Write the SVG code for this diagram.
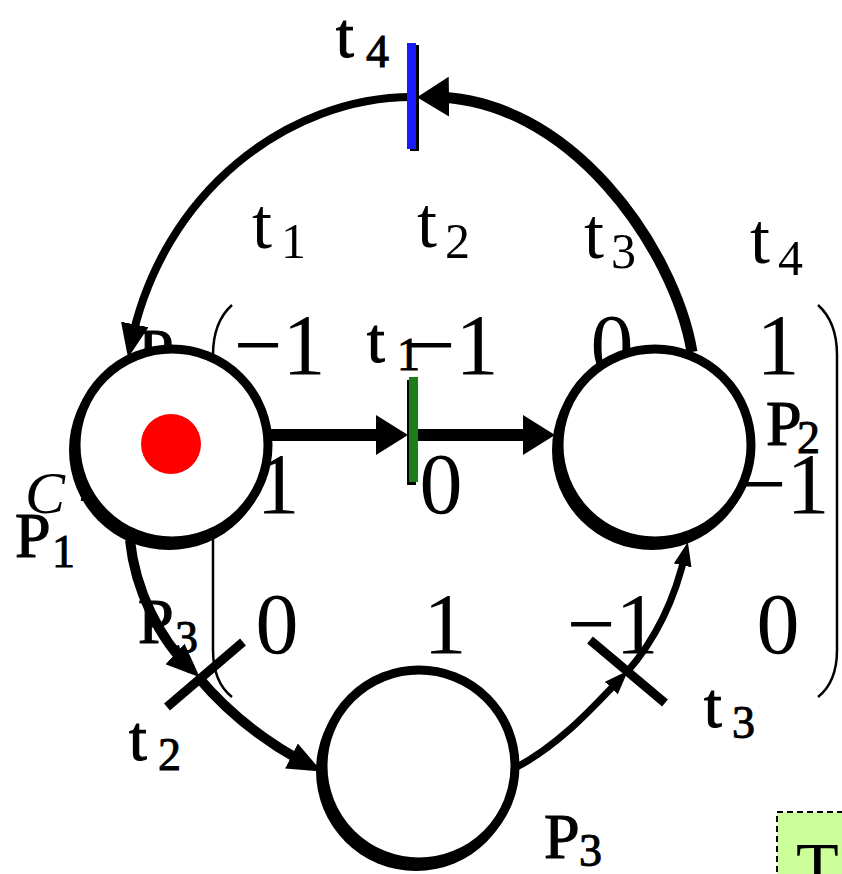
<svg xmlns="http://www.w3.org/2000/svg" width="842" height="874" viewBox="0 0 842 874" font-family="'Liberation Serif', Tinos, 'Times New Roman', 'Nimbus Roman', Times, serif">
<defs>
<marker id="ab" markerUnits="userSpaceOnUse" viewBox="0 0 32 40" markerWidth="32" markerHeight="40" refX="20" refY="20" orient="auto"><path d="M0,0 L32,20 L0,40 z" fill="#000"/></marker>
<marker id="am" markerUnits="userSpaceOnUse" viewBox="0 0 34 28" markerWidth="34" markerHeight="28" refX="22" refY="14" orient="auto"><path d="M0,0 L34,14 L0,28 z" fill="#000"/></marker>
<marker id="as" markerUnits="userSpaceOnUse" viewBox="0 0 24 18" markerWidth="24" markerHeight="18" refX="14" refY="9" orient="auto"><path d="M0,0 L24,9 L0,18 z" fill="#000"/></marker>
</defs>
<style>
text{font-family:'Liberation Serif', Tinos, 'Times New Roman', 'Nimbus Roman', Times, serif;fill:#000}
.m{font-size:86px}
.h{font-size:72px}
.hs{font-size:50px}
.lb{font-size:64px;stroke:#000;stroke-width:1.2}
.ls{font-size:46px;stroke:#000;stroke-width:1}
.arc{fill:none;stroke:#000}
.place{fill:#fff;stroke:#000;stroke-width:9}
.shadow{fill:#000}
.bar{stroke:#000;stroke-width:9;stroke-linecap:butt}
.br{fill:none;stroke:#000;stroke-width:2.5}
</style>
<rect width="842" height="874" fill="#fff"/>

<g id="matrix">
<text x="25" y="513" font-size="60" font-style="italic">C</text>
<text x="78" y="513" font-size="58">=</text>
<text class="lb" x="138" y="373">P<tspan class="ls" x="175" y="383">1</tspan></text>
<text class="lb" x="138" y="513">P<tspan class="ls" x="175" y="523">2</tspan></text>
<text class="lb" x="138" y="643">P<tspan class="ls" x="175" y="653">3</tspan></text>
<text class="h" x="252" y="248">t<tspan class="hs" x="281" y="258">1</tspan></text>
<text class="h" x="417" y="247">t<tspan class="hs" x="445" y="258">2</tspan></text>
<text class="h" x="584" y="258">t<tspan class="hs" x="611" y="268">3</tspan></text>
<text class="h" x="750" y="263">t<tspan class="hs" x="778" y="275">4</tspan></text>
<path class="br" d="M232,305 Q213,322 213,355 L213,650 Q213,682 232,697"/>
<path class="br" d="M818,305 Q837,322 837,355 L837,650 Q837,682 818,697"/>
<text class="m" x="234" y="374">−1</text>
<text class="m" x="407" y="374">−1</text>
<text class="m" x="612" y="374" text-anchor="middle">0</text>
<text class="m" x="778" y="374" text-anchor="middle">1</text>
<text class="m" x="278" y="513" text-anchor="middle">1</text>
<text class="m" x="441" y="513" text-anchor="middle">0</text>
<text class="m" x="612" y="513" text-anchor="middle">1</text>
<text class="m" x="738" y="513">−1</text>
<text class="m" x="277" y="653" text-anchor="middle">0</text>
<text class="m" x="445" y="653" text-anchor="middle">1</text>
<text class="m" x="567" y="653">−1</text>
<text class="m" x="778" y="653" text-anchor="middle">0</text>
</g>

<g id="connectors">
<path class="arc" stroke-width="12" d="M268,435 L396,435" marker-end="url(#ab)"/>
<path class="arc" stroke-width="12" d="M413,435 L543,435" marker-end="url(#ab)"/>
<path class="arc" stroke-width="11" d="M692,352 C675,250 570,95 429,97" marker-end="url(#ab)"/>
<path class="arc" stroke-width="8" d="M412,97 C290,97 162,190 130.4,346" marker-end="url(#am)"/>
<path class="arc" stroke-width="10" d="M130,540 C135,590 160,640 191,669" marker-end="url(#am)"/>
<path class="arc" stroke-width="10" d="M198,677 C230,715 270,745 311,766" marker-end="url(#am)"/>
<path class="arc" stroke-width="7" d="M515,768 C560,745 595,705 621,678" marker-end="url(#as)"/>
<path class="arc" stroke-width="7" d="M627,672 C655,640 675,600 685.7,551.7" marker-end="url(#as)"/>
</g>

<g id="P1">
<circle class="shadow" cx="169" cy="450" r="100"/>
<circle class="place" cx="172" cy="445" r="96"/>
<circle cx="171" cy="444" r="30" fill="#ff0000"/>
</g>
<g id="P2">
<circle class="shadow" cx="652" cy="450" r="100"/>
<circle class="place" cx="655" cy="445" r="96"/>
</g>
<g id="P3">
<circle class="shadow" cx="416" cy="771" r="100"/>
<circle class="place" cx="419" cy="766" r="96"/>
</g>

<g id="t1">
<rect x="407" y="380" width="9" height="105" fill="#000"/>
<rect x="409" y="377" width="9" height="105" fill="#1a7f1a"/>
</g>
<g id="t2">
<line class="bar" x1="167" y1="707" x2="243" y2="642"/>
</g>
<g id="t3">
<line class="bar" x1="590" y1="640" x2="665" y2="703"/>
</g>
<g id="t4">
<rect x="410" y="45" width="9" height="106" fill="#000"/>
<rect x="407" y="43" width="9" height="106" fill="#1a1aff"/>
</g>

<g id="labels">
<text class="lb" x="336" y="57">t<tspan class="ls" x="366" y="67">4</tspan></text>
<text class="lb" x="367" y="362">t<tspan class="ls" x="397" y="370">1</tspan></text>
<text class="lb" x="129" y="760">t<tspan class="ls" x="158" y="770">2</tspan></text>
<text class="lb" x="704" y="727">t<tspan class="ls" x="732" y="738">3</tspan></text>
<text class="lb" x="15" y="557">P<tspan class="ls" x="52" y="567">1</tspan></text>
<text class="lb" x="766" y="445">P<tspan class="ls" x="797" y="453">2</tspan></text>
<text class="lb" x="544" y="858">P<tspan class="ls" x="579" y="866">3</tspan></text>
</g>

<g id="note">
<rect x="777" y="812" width="90" height="90" fill="#ccff99" stroke="#000" stroke-width="2" stroke-dasharray="6,4"/>
<text x="796" y="891" font-size="70">T</text>
</g>
</svg>
